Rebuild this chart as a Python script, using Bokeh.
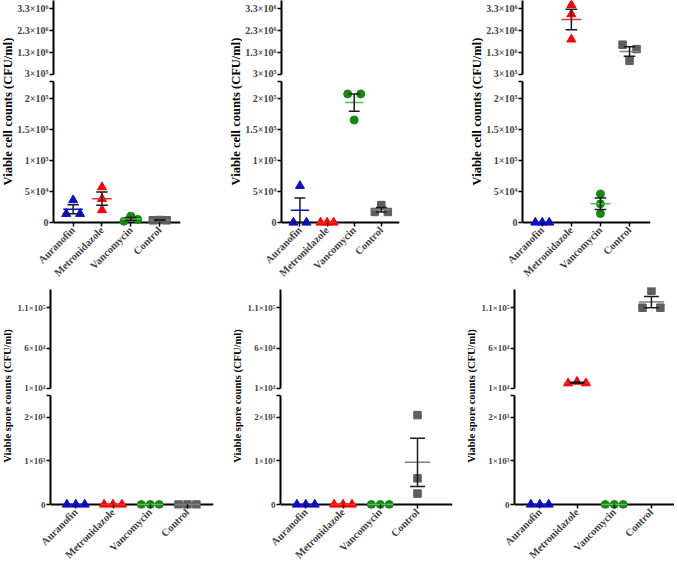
import numpy as np
from math import pi
from bokeh.plotting import figure
from bokeh.models import ColumnDataSource, FixedTicker, Range1d, Span
from bokeh.layouts import row, column
from bokeh.embed import file_html
from bokeh.resources import INLINE
from bokeh.core.properties import value

groups = ["Auranofin", "Metronidazole", "Vancomycin", "Control"]
colors = ["#0d0dc8", "#ff0000", "#128a12", "#5e5e5e"]
mean_colors = ["#0d0dc8", "#ff2a2a", "#5cb85c", "#808080"]
sem_color = "#1a1a1a"
markers = ["triangle", "triangle", "circle", "square"]

# viable cell counts (CFU/ml), three replicates per group
cells_1 = [[1.4e4, 3.6e4, 1.4e4], [5.7e4, 3.8e4, 2.0e4], [2e3, 1.0e4, 5e3], [3.5e3, 4e3, 3.5e3]]
cells_2 = [[0, 5.9e4, 0], [0, 0, 0], [2.07e5, 2.07e5, 1.65e5], [2.8e4, 1.7e4, 1.7e4]]
cells_3 = [[0, 0, 0], [3.45e6, 3.03e6, 1.89e6], [4.6e4, 3.0e4, 1.45e4], [1.65e6, 1.45e6, 0.92e6]]

# viable spore counts (CFU/ml)
spores_1 = [[0, 0, 0], [0, 0, 0], [0, 0, 0], [0, 0, 0]]
spores_2 = [[0, 0, 0], [0, 0, 0], [0, 0, 0], [2.05e3, 0.6e3, 0.25e3]]
spores_3 = [[0, 0, 0], [1.65e4, 1.85e4, 1.65e4], [0, 0, 0], [1.31e5, 1.1e5, 1.1e5]]

cell_low_ticks = [0, 5e4, 1e5, 1.5e5, 2e5]
cell_low_labels = ["0", "5×10⁴", "1×10⁵", "1.5×10⁵", "2×10⁵"]
cell_up_ticks = [3e5, 1.3e6, 2.3e6, 3.3e6]
cell_up_labels = ["3×10⁵", "1.3×10⁶", "2.3×10⁶", "3.3×10⁶"]
spore_low_ticks = [0, 1e3, 2e3]
spore_low_labels = ["0", "1×10³", "2×10³"]
spore_up_ticks = [1e4, 6e4, 1.1e5]
spore_up_labels = ["1×10⁴", "6×10⁴", "1.1×10⁵"]

FONT = "Liberation Serif"
PAD = 4  # px of frame below zero so markers on the axis are not cut
LAB_W = 14
BORDER_L = 36

cell_seg = dict(up_top=0, up_h=74, up_start=3e5, up_end=3.65e6, up_bound=3.65e6,
                lo_h=145, lo_end=2.27e5, low_ticks=cell_low_ticks, low_labels=cell_low_labels,
                up_ticks=cell_up_ticks, up_labels=cell_up_labels,
                tick_size="10px", xlab_size="10.5px", ylab_size="12.5px")
spore_seg = dict(up_top=2, up_h=101, up_start=1e4, up_end=1.35e5, up_bound=1.33e5,
                 lo_h=113, lo_end=2.5e3, low_ticks=spore_low_ticks, low_labels=spore_low_labels,
                 up_ticks=spore_up_ticks, up_labels=spore_up_labels,
                 tick_size="9px", xlab_size="10.5px", ylab_size="10.5px")


def offsets(vals, per_px, gap_px=6.0, step=0.24):
    # spread points that would overlap, like a scatter dot plot
    order = sorted(range(len(vals)), key=lambda i: vals[i])
    clusters = [[order[0]]]
    for i in order[1:]:
        if (vals[i] - vals[clusters[-1][-1]]) / per_px < gap_px:
            clusters[-1].append(i)
        else:
            clusters.append([i])
    off = [0.0] * len(vals)
    for c in clusters:
        c = sorted(c)
        if len(c) == 2:
            off[c[0]], off[c[1]] = -step, step
        elif len(c) >= 3:
            for k, i in enumerate(c):
                off[i] = (k - (len(c) - 1) / 2) * step
    return off


def style_y(ax, ticks, labels, bounds, size):
    ax.ticker = FixedTicker(ticks=ticks)
    ax.major_label_overrides = {t: l for t, l in zip(ticks, labels)}
    ax.bounds = bounds
    ax.axis_line_width = 2
    ax.major_tick_out = 4
    ax.major_tick_in = 0
    ax.major_tick_line_width = 1.5
    ax.minor_tick_line_color = None
    ax.major_label_text_font = FONT
    ax.major_label_text_font_style = "bold"
    ax.major_label_text_font_size = size
    ax.major_label_standoff = 1


def make_panel(data, ylabel, seg, frame_w, x_end, border_r):
    lo_end = seg["lo_end"]
    lo_start = -PAD * lo_end / (seg["lo_h"] - PAD)
    xr = Range1d(-0.68, x_end)
    common = dict(frame_width=frame_w, x_range=xr, min_border_left=BORDER_L, min_border_right=border_r,
                  output_backend="svg", toolbar_location=None, outline_line_color=None)
    up = figure(frame_height=seg["up_h"], y_range=Range1d(seg["up_start"], seg["up_end"]),
                x_axis_location=None, min_border_top=seg["up_top"], min_border_bottom=4, **common)
    lo = figure(frame_height=seg["lo_h"], y_range=Range1d(lo_start, lo_end),
                min_border_top=3, min_border_bottom=0, **common)
    for p in (up, lo):
        p.grid.visible = False

    style_y(up.yaxis[0], seg["up_ticks"], seg["up_labels"], (seg["up_start"], seg["up_bound"]), seg["tick_size"])
    style_y(lo.yaxis[0], seg["low_ticks"] + [lo_end], seg["low_labels"] + [""], (0, lo_end), seg["tick_size"])

    # x axis sits at the frame bottom, a few px under zero; its line is drawn at zero instead
    lo.add_layout(Span(location=0, dimension="width", line_color="black", line_width=2, level="underlay"))
    xa = lo.xaxis[0]
    xa.ticker = FixedTicker(ticks=list(range(len(groups))))
    xa.major_label_overrides = {i: g for i, g in enumerate(groups)}
    xa.axis_line_color = None
    xa.major_tick_out = 0
    xa.major_tick_in = PAD
    xa.major_tick_line_width = 1.5
    xa.minor_tick_line_color = None
    xa.major_label_orientation = pi / 4
    xa.major_label_text_font = FONT
    xa.major_label_text_font_style = "bold"
    xa.major_label_text_font_size = seg["xlab_size"]
    xa.major_label_standoff = 2

    up_px = (seg["up_end"] - seg["up_start"]) / seg["up_h"]
    lo_px = (lo_end - lo_start) / seg["lo_h"]

    for i, vals in enumerate(data):
        upper = [v >= seg["up_start"] for v in vals]
        off = offsets(vals, up_px if all(upper) else lo_px)
        for p, flag in ((up, True), (lo, False)):
            xs = [i + o for o, u in zip(off, upper) if u == flag]
            ys = [v for v, u in zip(vals, upper) if u == flag]
            if xs:
                size = 9 if markers[i] == "triangle" else (8 if markers[i] == "circle" else 7.5)
                p.scatter(x="x", y="y", source=ColumnDataSource(dict(x=xs, y=ys)),
                          marker=markers[i], size=size, color=colors[i])
        m = float(np.mean(vals))
        s = float(np.std(vals, ddof=1) / np.sqrt(len(vals)))
        p = up if m >= seg["up_start"] else lo
        p.segment(x0=[i - 0.34], x1=[i + 0.34], y0=[m], y1=[m], line_color=mean_colors[i], line_width=1.5)
        if s > 0:
            p.segment(x0=[i, i - 0.2, i - 0.2], x1=[i, i + 0.2, i + 0.2],
                      y0=[m - s, m - s, m + s], y1=[m + s, m - s, m + s],
                      line_color=sem_color, line_width=1.5)

    h = seg["up_top"] + seg["up_h"] + 4 + 3 + seg["lo_h"] - PAD
    lab = figure(width=LAB_W, height=h, x_range=Range1d(0, 1), y_range=Range1d(0, h),
                 x_axis_type=None, y_axis_type=None, min_border=0, outline_line_color=None,
                 output_backend="svg", toolbar_location=None)
    lab.grid.visible = False
    lab.text(x=[0.5], y=[(h - seg["up_top"]) / 2], text=[ylabel], angle=pi / 2,
             text_align="center", text_baseline="middle", text_font=value(FONT),
             text_font_style="bold", text_font_size=seg["ylab_size"], text_color="black")
    return row(lab, column(up, lo))


cell_label = "Viable cell counts (CFU/ml)"
spore_label = "Viable spore counts (CFU/ml)"

top = row(make_panel(cells_1, cell_label, cell_seg, 127, 3.72, 48),
          make_panel(cells_2, cell_label, cell_seg, 118, 3.67, 70),
          make_panel(cells_3, cell_label, cell_seg, 128, 3.72, 30))
bottom = row(make_panel(spores_1, spore_label, spore_seg, 163, 3.70, 17),
             make_panel(spores_2, spore_label, spore_seg, 172, 3.94, 12),
             make_panel(spores_3, spore_label, spore_seg, 160, 3.62, 0))
p = column(top, bottom)

open("out.html", "w").write(file_html(p, INLINE))
